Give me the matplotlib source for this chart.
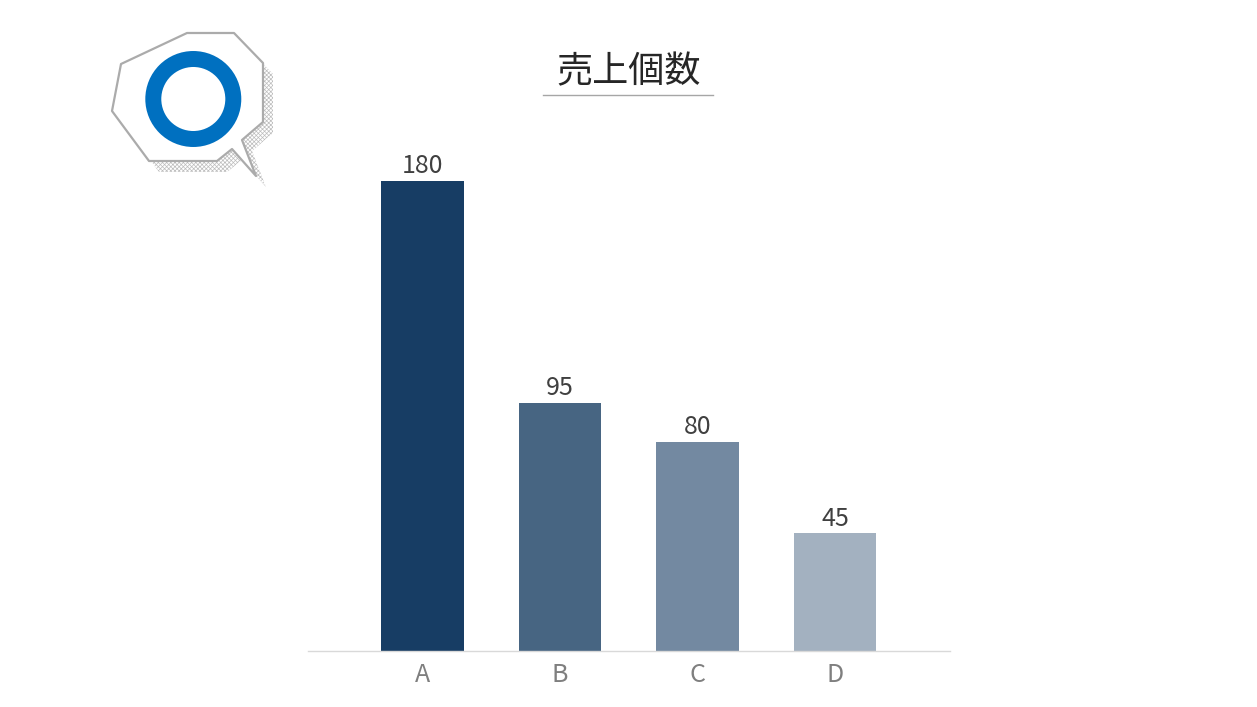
import matplotlib
matplotlib.use("Agg")
import matplotlib.pyplot as plt
from matplotlib.patches import Polygon, Circle

plt.rcParams['font.family'] = ['Noto Sans CJK JP', 'DejaVu Sans']

W, H = 1257, 707

categories = ["A", "B", "C", "D"]
values = [180, 95, 80, 45]
colors = ["#173D64", "#476582", "#7389A1", "#A3B1C0"]
title = "売上個数"

# 吹き出しの形 (ピクセル座標)
bubble = [(187, 33), (234, 33), (263, 63), (263, 122), (242, 140), (256, 176),
          (232, 149), (217, 161), (149, 161), (112, 111), (121, 64)]

fig = plt.figure(figsize=(W / 100, H / 100), dpi=100)

# グラフ本体
left, right, base, top = 308, 949.5, 650.5, 24
ax = fig.add_axes([left / W, 1 - base / H, (right - left) / W, (base - top) / H])
bars = ax.bar(categories, values, width=0.6, color=colors)
ax.bar_label(bars, padding=1, fontsize=18, color="#404040")
ax.set_xlim(-0.833, 3.833)
ax.set_ylim(0, 240)
ax.set_yticks([])
ax.tick_params(axis="x", length=0, labelsize=18, labelcolor="#7F7F7F", pad=8)
for s in ["top", "left", "right"]:
    ax.spines[s].set_visible(False)
ax.spines["bottom"].set_color("#D9D9D9")
ax.spines["bottom"].set_linewidth(1)

# 飾り用のレイヤー
deco = fig.add_axes([0, 0, 1, 1])
deco.set_xlim(0, W)
deco.set_ylim(H, 0)
deco.axis("off")
deco.patch.set_alpha(0)

plt.rcParams['hatch.linewidth'] = 0.5
shadow = [(x + 10, y + 11) for x, y in bubble]
deco.add_patch(Polygon(shadow, closed=True, facecolor="none", edgecolor="#BDBDBD",
                       hatch="xxxxxxxx", linewidth=0))
deco.add_patch(Polygon(bubble, closed=True, facecolor="white", edgecolor="#ABABAB",
                       linewidth=1.6, joinstyle="round"))
deco.add_patch(Circle((193.3, 99), 40, facecolor="white", edgecolor="#0070C0", linewidth=11.5))

deco.text(628.5, 72, title, ha="center", va="center", fontsize=26, color="#262626")
deco.plot([543, 713], [95, 95], color="#A6A6A6", linewidth=1)

fig.savefig("out.png", dpi=100)
